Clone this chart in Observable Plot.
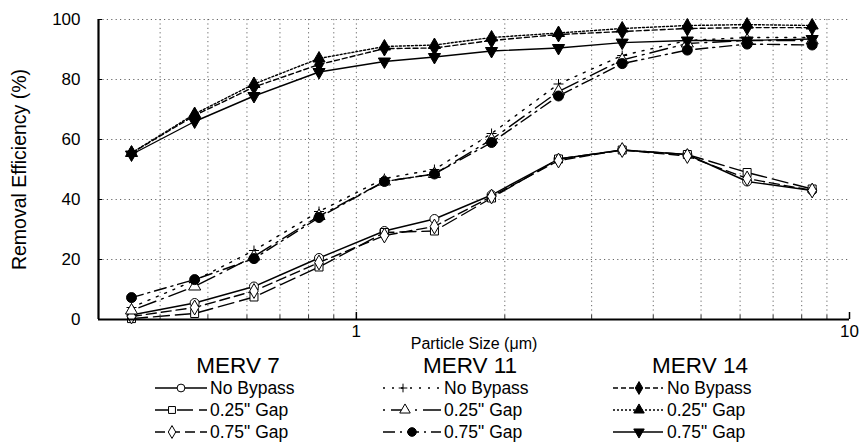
<!DOCTYPE html>
<html>
<head>
<meta charset="utf-8">
<script src="https://cdn.jsdelivr.net/npm/d3@7"></script>
<script src="https://cdn.jsdelivr.net/npm/@observablehq/plot@0.6"></script>
<style>
  html, body { margin: 0; padding: 0; background: #fff; }
  #wrap { position: relative; width: 864px; height: 445px; overflow: hidden; font-family: "Liberation Sans", Arial, sans-serif; }
  #legend { position: absolute; left: 0; top: 0; pointer-events: none; }
</style>
</head>
<body>
<div id="wrap"></div>
<script>
// ---- Data ----
const particleSizes = [0.35, 0.47, 0.62, 0.84, 1.14, 1.44, 1.88, 2.57, 3.46, 4.69, 6.2, 8.4];

const merv7NoBypass  = [1.5, 5.5, 11, 20.5, 29.5, 33.5, 41.5, 53.5, 56.5, 55, 46, 43];
const merv7Gap025    = [0.3, 2, 7.5, 17.5, 29, 29.5, 40.5, 53.5, 56.5, 55, 49, 43.5];
const merv7Gap075    = [1, 4, 9.5, 19, 28, 31, 41, 53, 56.5, 54.5, 47, 43];

const merv11NoBypass = [4, 13, 23, 36, 47, 50, 62, 78.5, 88, 93, 94, 94];
const merv11Gap025   = [3, 11, 21, 34.5, 46, 48.5, 60, 76, 86.5, 92, 93, 93];
const merv11Gap075   = [7.3, 13.3, 20.3, 34, 46, 48.5, 59, 74.5, 85.3, 89.8, 91.8, 91.5];

const merv14NoBypass = [55.5, 68, 77.5, 85, 90.3, 90.5, 93, 95, 96, 97, 97.3, 97.3];
const merv14Gap025   = [55.5, 68.5, 78.5, 87, 91, 91.5, 94, 95.5, 97, 98, 98.3, 98];
const merv14Gap075   = [55, 66, 74.5, 82.5, 86, 87.5, 89.5, 90.5, 92.3, 93, 93, 93.5];

const groupNames = ["MERV 7", "MERV 11", "MERV 14"];
const caseNames = ["No Bypass", "0.25\" Gap", "0.75\" Gap"];
const yTicks = [0, 20, 40, 60, 80, 100];
const xLabelTicks = [1, 10];
const xMinorTicks = [0.4, 0.5, 0.6, 0.7, 0.8, 0.9, 2, 3, 4, 5, 6, 7, 8, 9];

// thin "+" symbol
const thinPlus = {
  draw(context, size) {
    const r = Math.sqrt(size / Math.PI);
    context.moveTo(-r, 0); context.lineTo(r, 0);
    context.moveTo(0, -r); context.lineTo(0, r);
  }
};

// ---- Series styling ----
const series = [
  {group: 0, c: 0, values: merv7NoBypass,  dash: null,       symbol: "circle",   fill: "white", r: 4.5, rotate: 0},
  {group: 0, c: 1, values: merv7Gap025,    dash: "16,6",     symbol: "square",   fill: "white", r: 4.5, rotate: 0},
  {group: 0, c: 2, values: merv7Gap075,    dash: "10,5",     symbol: "diamond",  fill: "white", r: 4.5, rotate: 0},
  {group: 1, c: 0, values: merv11NoBypass, dash: "2,7",      symbol: thinPlus,   fill: "none",  r: 5,   rotate: 0},
  {group: 1, c: 1, values: merv11Gap025,   dash: "2,6,18,6", symbol: "triangle", fill: "white", r: 4.5, rotate: 0},
  {group: 1, c: 2, values: merv11Gap075,   dash: "12,5,2,5", symbol: "circle",   fill: "black", r: 5,   rotate: 0},
  {group: 2, c: 0, values: merv14NoBypass, dash: "5,3",      symbol: "diamond",  fill: "black", r: 4.5, rotate: 0},
  {group: 2, c: 1, values: merv14Gap025,   dash: "2,2",      symbol: "triangle", fill: "black", r: 4.5, rotate: 0},
  {group: 2, c: 2, values: merv14Gap075,   dash: null,       symbol: "triangle", fill: "black", r: 4.5, rotate: 180}
];

const records = s => particleSizes.map((x, i) => ({x, y: s.values[i]}));

const lineMarks = series.map(s => Plot.line(records(s), {
  x: "x", y: "y", stroke: "black", strokeWidth: 1.4,
  strokeDasharray: s.dash ?? undefined
}));
const dotMarks = series.map(s => Plot.dot(records(s), {
  x: "x", y: "y", symbol: s.symbol, r: s.r, fill: s.fill, stroke: "black",
  strokeWidth: 1, rotate: s.rotate
}));

const chart = Plot.plot({
  width: 864,
  height: 362,
  marginLeft: 98,
  marginRight: 15,
  marginTop: 19,
  marginBottom: 43,
  style: {fontFamily: "'Liberation Sans', Arial, sans-serif", fontSize: "17px", color: "black", background: "white"},
  x: {type: "log", domain: [0.3, 10]},
  y: {domain: [0, 100]},
  marks: [
    Plot.gridX(xMinorTicks.concat([1]), {stroke: "#666", strokeOpacity: 1, strokeDasharray: "1.2,3.2", strokeWidth: 1}),
    Plot.gridY(yTicks.slice(1), {stroke: "#666", strokeOpacity: 1, strokeDasharray: "1.2,3.2", strokeWidth: 1}),
    ...lineMarks,
    ...dotMarks,
    Plot.ruleY([0], {stroke: "black", strokeWidth: 2.2}),
    Plot.ruleX([0.3], {stroke: "black", strokeWidth: 2.2}),
    Plot.axisX(xMinorTicks, {tickSize: -4, text: null, label: null, stroke: "#333"}),
    Plot.axisX(xLabelTicks, {tickSize: -7, text: null, label: null, stroke: "black", strokeWidth: 1.5}),
    Plot.axisX(xLabelTicks, {tickSize: 0, tickPadding: 5, tickFormat: d => String(d),
      label: "Particle Size (μm)", labelAnchor: "center", labelArrow: "none", labelOffset: 29, fontSize: 16}),
    Plot.axisY(yTicks, {tickSize: -4, text: null, label: null}),
    Plot.axisY(yTicks, {tickSize: 0, tickPadding: 18, tickFormat: d => String(d),
      label: "Removal Efficiency (%)", labelAnchor: "center", labelArrow: "none", labelOffset: 86, fontSize: 17})
  ]
});

const wrap = document.getElementById("wrap");
wrap.appendChild(chart);

// enlarge the y-axis title only
d3.select(chart).selectAll("text").filter(function() {
  return this.textContent === "Removal Efficiency (%)";
}).attr("font-size", 19.5);
// x-axis tick labels a touch larger than the title
d3.select(chart).selectAll("text").filter(function() {
  return this.textContent === "1" || this.textContent === "10";
}).attr("font-size", 17);

// ---- Legend (below the plot) ----
const legend = d3.select(wrap).append("svg")
  .attr("id", "legend").attr("width", 864).attr("height", 445)
  .style("font-family", "'Liberation Sans', Arial, sans-serif");

const cols = [
  {title: 238, x0: 155, x1: 207, text: 210, marks: [181, 172, 172]},
  {title: 470, x0: 383, x1: 441, text: 444, marks: [403, 405, 412]},
  {title: 700, x0: 613, x1: 663, text: 667, marks: [639, 639, 639]}
];
const rowY = [388, 410, 432];

groupNames.forEach((g, gi) => {
  legend.append("text").attr("x", cols[gi].title).attr("y", 365).attr("dy", "0.36em")
    .attr("text-anchor", "middle").attr("font-size", 22.5).text(g);
});

const symbolType = {circle: d3.symbolCircle, square: d3.symbolSquare, diamond: d3.symbolDiamond, triangle: d3.symbolTriangle};

series.forEach(s => {
  const col = cols[s.group];
  const y = rowY[s.c];
  legend.append("line").attr("x1", col.x0).attr("x2", col.x1).attr("y1", y).attr("y2", y)
    .attr("stroke", "black").attr("stroke-width", 1.4)
    .attr("stroke-dasharray", s.dash ?? null);
  const mx = col.marks[s.c];
  const size = Math.PI * s.r * s.r * 0.75;
  const type = typeof s.symbol === "string" ? symbolType[s.symbol] : s.symbol;
  legend.append("path").attr("d", d3.symbol(type, size)())
    .attr("transform", `translate(${mx},${y}) rotate(${s.rotate})`)
    .attr("fill", s.fill).attr("stroke", "black").attr("stroke-width", 1);
  legend.append("text").attr("x", col.text).attr("y", y).attr("dy", "0.36em")
    .attr("font-size", 17.5).text(caseNames[s.c]);
});
</script>
</body>
</html>
